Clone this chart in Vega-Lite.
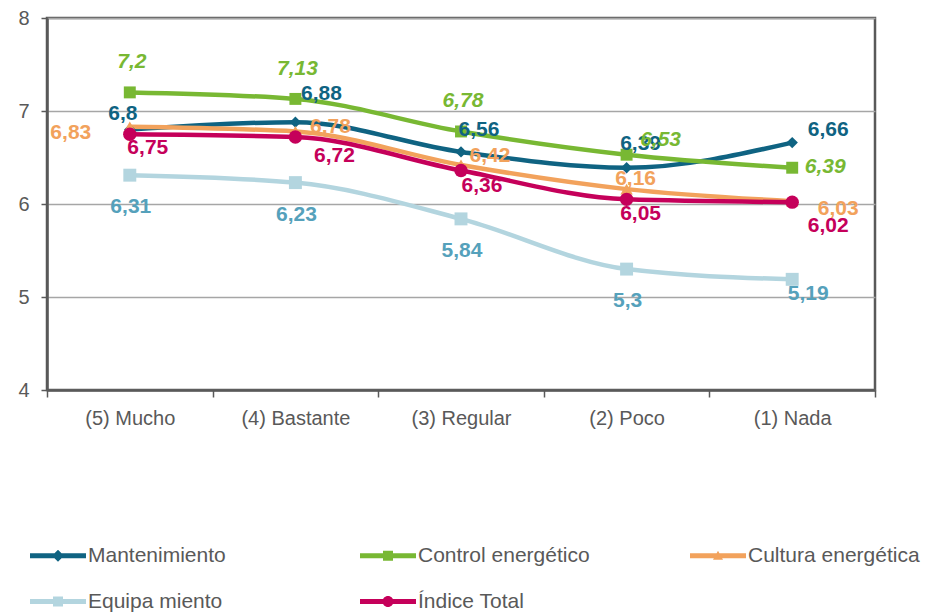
{
  "$schema": "https://vega.github.io/schema/vega-lite/v6.json",
  "width": 828,
  "height": 372,
  "autosize": {"type": "none"},
  "padding": {"left": 47, "top": 18, "right": 59, "bottom": 223},
  "config": {
    "font": "Liberation Sans",
    "locale": {"number": {"decimal": ",", "thousands": ".", "grouping": [3], "currency": ["", " €"]}},
    "view": {"stroke": "#595959", "strokeWidth": 2.5},
    "text": {"font": "Liberation Sans", "fontWeight": "bold", "fontSize": 21, "align": "center", "baseline": "middle"}
  },
  "data": {"values": [
    {"serie": "Mantenimiento", "cat": "(5) Mucho", "v": 6.8, "k": "M5"},
    {"serie": "Mantenimiento", "cat": "(4) Bastante", "v": 6.88, "k": "M4"},
    {"serie": "Mantenimiento", "cat": "(3) Regular", "v": 6.56, "k": "M3"},
    {"serie": "Mantenimiento", "cat": "(2) Poco", "v": 6.39, "k": "M2"},
    {"serie": "Mantenimiento", "cat": "(1) Nada", "v": 6.66, "k": "M1"},
    {"serie": "Control energético", "cat": "(5) Mucho", "v": 7.2, "k": "C5"},
    {"serie": "Control energético", "cat": "(4) Bastante", "v": 7.13, "k": "C4"},
    {"serie": "Control energético", "cat": "(3) Regular", "v": 6.78, "k": "C3"},
    {"serie": "Control energético", "cat": "(2) Poco", "v": 6.53, "k": "C2"},
    {"serie": "Control energético", "cat": "(1) Nada", "v": 6.39, "k": "C1"},
    {"serie": "Cultura energética", "cat": "(5) Mucho", "v": 6.83, "k": "U5"},
    {"serie": "Cultura energética", "cat": "(4) Bastante", "v": 6.78, "k": "U4"},
    {"serie": "Cultura energética", "cat": "(3) Regular", "v": 6.42, "k": "U3"},
    {"serie": "Cultura energética", "cat": "(2) Poco", "v": 6.16, "k": "U2"},
    {"serie": "Cultura energética", "cat": "(1) Nada", "v": 6.03, "k": "U1"},
    {"serie": "Equipa miento", "cat": "(5) Mucho", "v": 6.31, "k": "E5"},
    {"serie": "Equipa miento", "cat": "(4) Bastante", "v": 6.23, "k": "E4"},
    {"serie": "Equipa miento", "cat": "(3) Regular", "v": 5.84, "k": "E3"},
    {"serie": "Equipa miento", "cat": "(2) Poco", "v": 5.3, "k": "E2"},
    {"serie": "Equipa miento", "cat": "(1) Nada", "v": 5.19, "k": "E1"},
    {"serie": "Índice Total", "cat": "(5) Mucho", "v": 6.75, "k": "I5"},
    {"serie": "Índice Total", "cat": "(4) Bastante", "v": 6.72, "k": "I4"},
    {"serie": "Índice Total", "cat": "(3) Regular", "v": 6.36, "k": "I3"},
    {"serie": "Índice Total", "cat": "(2) Poco", "v": 6.05, "k": "I2"},
    {"serie": "Índice Total", "cat": "(1) Nada", "v": 6.02, "k": "I1"}
  ]},
  "encoding": {
    "x": {
      "field": "cat", "type": "nominal", "bandPosition": 0.5,
      "scale": {"type": "band", "domain": ["(5) Mucho", "(4) Bastante", "(3) Regular", "(2) Poco", "(1) Nada"], "paddingInner": 0, "paddingOuter": 0},
      "axis": {"title": null, "labelAngle": 0, "tickBand": "extent", "tickSize": 7, "tickColor": "#595959", "tickWidth": 1.5, "domainColor": "#595959", "domainWidth": 2.5, "labelFontSize": 20, "labelColor": "#595959", "labelFont": "Liberation Sans", "labelPadding": 11, "grid": false}
    },
    "y": {
      "field": "v", "type": "quantitative",
      "scale": {"domain": [4, 8], "nice": false, "zero": false},
      "axis": {"values": [4, 5, 6, 7, 8], "format": "d", "title": null, "grid": true, "gridColor": "#a6a6a6", "gridWidth": 1.5, "tickSize": 6, "tickColor": "#595959", "tickWidth": 1.5, "domainColor": "#595959", "domainWidth": 2.5, "labelFontSize": 20, "labelColor": "#595959", "labelFont": "Liberation Sans", "labelPadding": 12}
    }
  },
  "layer": [
    {
      "mark": {"type": "line", "strokeWidth": 4.5, "interpolate": "monotone", "strokeCap": "round"},
      "encoding": {
        "stroke": {
          "field": "serie", "type": "nominal",
          "scale": {"domain": ["Mantenimiento", "Control energético", "Cultura energética", "Equipa miento", "Índice Total"], "range": ["#0f6382", "#78b833", "#f2a25c", "#b3d5df", "#c5005a"]},
          "legend": {
            "orient": "none", "legendX": -17, "legendY": 527, "direction": "horizontal", "columns": 3, "gridAlign": "all",
            "columnPadding": 100, "rowPadding": 24, "padding": 0, "title": null,
            "labelFontSize": 21, "labelColor": "#595959", "labelFont": "Liberation Sans", "labelOffset": 37, "labelLimit": 300,
            "symbolSize": 100, "symbolStrokeWidth": 0,
            "encode": {"symbols": {"update": {
              "shape": {"signal": "datum.value === 'Mantenimiento' ? 'M-2.1,-0.5H9.1V0.5H-2.1ZM3.5,-1.2L4.7,0L3.5,1.2L2.3,0Z' : datum.value === 'Control energético' ? 'M-2.1,-0.5H9.1V0.5H-2.1ZM2.5,-1H4.5V1H2.5Z' : datum.value === 'Cultura energética' ? 'M-2.1,-0.5H9.1V0.5H-2.1ZM3.5,-1L4.5,0.8H2.5Z' : datum.value === 'Equipa miento' ? 'M-2.1,-0.5H9.1V0.5H-2.1ZM2.5,-1H4.5V1H2.5Z' : 'M-2.1,-0.5H9.1V0.5H-2.1ZM2.4,0A1.1,1.1 0 1,1 4.6,0A1.1,1.1 0 1,1 2.4,0Z'"},
              "fill": {"scale": "stroke", "field": "value"},
              "strokeWidth": {"value": 0},
              "opacity": {"value": 1}
            }}}
          }
        }
      }
    },
    {
      "mark": {"type": "point", "filled": true, "opacity": 1, "strokeWidth": 0},
      "encoding": {
        "fill": {"field": "serie", "type": "nominal", "legend": null,
          "sort": ["Mantenimiento", "Control energético", "Cultura energética", "Equipa miento", "Índice Total"],
          "scale": {"range": ["#0f6382", "#78b833", "#f2a25c", "#b3d5df", "#c5005a"]}},
        "shape": {"field": "serie", "type": "nominal", "legend": null,
          "sort": ["Mantenimiento", "Control energético", "Cultura energética", "Equipa miento", "Índice Total"],
          "scale": {"range": ["diamond", "square", "triangle-up", "square", "circle"]}},
        "size": {"field": "serie", "type": "nominal", "legend": null,
          "sort": ["Mantenimiento", "Control energético", "Cultura energética", "Equipa miento", "Índice Total"],
          "scale": {"range": [130, 180, 110, 180, 180]}}
      }
    },
    {"transform": [{"filter": "datum.k === 'M5'"}], "mark": {"type": "text", "color": "#0f6382", "dx": -7, "dy": -16}, "encoding": {"text": {"field": "v", "type": "quantitative", "format": ".2~f"}}},
    {"transform": [{"filter": "datum.k === 'M4'"}], "mark": {"type": "text", "color": "#0f6382", "dx": 26, "dy": -28}, "encoding": {"text": {"field": "v", "type": "quantitative", "format": ".2~f"}}},
    {"transform": [{"filter": "datum.k === 'M3'"}], "mark": {"type": "text", "color": "#0f6382", "dx": 18, "dy": -22}, "encoding": {"text": {"field": "v", "type": "quantitative", "format": ".2~f"}}},
    {"transform": [{"filter": "datum.k === 'M2'"}], "mark": {"type": "text", "color": "#0f6382", "dx": 14, "dy": -24}, "encoding": {"text": {"field": "v", "type": "quantitative", "format": ".2~f"}}},
    {"transform": [{"filter": "datum.k === 'M1'"}], "mark": {"type": "text", "color": "#0f6382", "dx": 36, "dy": -13}, "encoding": {"text": {"field": "v", "type": "quantitative", "format": ".2~f"}}},
    {"transform": [{"filter": "indexof(['C5','C4','C3'], datum.k) >= 0"}], "mark": {"type": "text", "color": "#78b833", "fontStyle": "italic", "dx": 2, "dy": -30}, "encoding": {"text": {"field": "v", "type": "quantitative", "format": ".2~f"}}},
    {"transform": [{"filter": "datum.k === 'C2'"}], "mark": {"type": "text", "color": "#78b833", "fontStyle": "italic", "dx": 34, "dy": -15}, "encoding": {"text": {"field": "v", "type": "quantitative", "format": ".2~f"}}},
    {"transform": [{"filter": "datum.k === 'C1'"}], "mark": {"type": "text", "color": "#78b833", "fontStyle": "italic", "dx": 33, "dy": -1}, "encoding": {"text": {"field": "v", "type": "quantitative", "format": ".2~f"}}},
    {"transform": [{"filter": "datum.k === 'U5'"}], "mark": {"type": "text", "color": "#f2a25c", "dx": -59, "dy": 6}, "encoding": {"text": {"field": "v", "type": "quantitative", "format": ".2~f"}}},
    {"transform": [{"filter": "datum.k === 'U4'"}], "mark": {"type": "text", "color": "#f2a25c", "dx": 35, "dy": -4}, "encoding": {"text": {"field": "v", "type": "quantitative", "format": ".2~f"}}},
    {"transform": [{"filter": "datum.k === 'U3'"}], "mark": {"type": "text", "color": "#f2a25c", "dx": 29, "dy": -9}, "encoding": {"text": {"field": "v", "type": "quantitative", "format": ".2~f"}}},
    {"transform": [{"filter": "datum.k === 'U2'"}], "mark": {"type": "text", "color": "#f2a25c", "dx": 9, "dy": -10}, "encoding": {"text": {"field": "v", "type": "quantitative", "format": ".2~f"}}},
    {"transform": [{"filter": "datum.k === 'U1'"}], "mark": {"type": "text", "color": "#f2a25c", "dx": 46, "dy": 8}, "encoding": {"text": {"field": "v", "type": "quantitative", "format": ".2~f"}}},
    {"transform": [{"filter": "indexof(['E5','E4','E3','E2'], datum.k) >= 0"}], "mark": {"type": "text", "color": "#55a1bb", "dx": 1, "dy": 32}, "encoding": {"text": {"field": "v", "type": "quantitative", "format": ".2~f"}}},
    {"transform": [{"filter": "datum.k === 'E1'"}], "mark": {"type": "text", "color": "#55a1bb", "dx": 16, "dy": 15}, "encoding": {"text": {"field": "v", "type": "quantitative", "format": ".2~f"}}},
    {"transform": [{"filter": "datum.k === 'I5'"}], "mark": {"type": "text", "color": "#c5005a", "dx": 18, "dy": 14}, "encoding": {"text": {"field": "v", "type": "quantitative", "format": ".2~f"}}},
    {"transform": [{"filter": "datum.k === 'I4'"}], "mark": {"type": "text", "color": "#c5005a", "dx": 39, "dy": 19}, "encoding": {"text": {"field": "v", "type": "quantitative", "format": ".2~f"}}},
    {"transform": [{"filter": "datum.k === 'I3'"}], "mark": {"type": "text", "color": "#c5005a", "dx": 21, "dy": 15}, "encoding": {"text": {"field": "v", "type": "quantitative", "format": ".2~f"}}},
    {"transform": [{"filter": "datum.k === 'I2'"}], "mark": {"type": "text", "color": "#c5005a", "dx": 14, "dy": 15}, "encoding": {"text": {"field": "v", "type": "quantitative", "format": ".2~f"}}},
    {"transform": [{"filter": "datum.k === 'I1'"}], "mark": {"type": "text", "color": "#c5005a", "dx": 36, "dy": 24}, "encoding": {"text": {"field": "v", "type": "quantitative", "format": ".2~f"}}}
  ]
}
